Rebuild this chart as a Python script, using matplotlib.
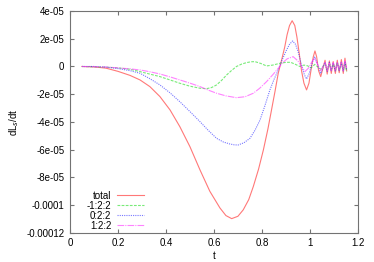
import matplotlib
matplotlib.use("Agg")
import matplotlib.pyplot as plt

plt.rcParams.update({
    "font.family": ["Liberation Sans", "DejaVu Sans"],
    "font.size": 7,
    "axes.edgecolor": "0.45",
    "axes.linewidth": 0.8,
    "xtick.direction": "in",
    "ytick.direction": "in",
    "xtick.color": "0.45",
    "ytick.color": "0.45",
    "xtick.labelcolor": "black",
    "ytick.labelcolor": "black",
    "xtick.top": True,
    "ytick.right": True,
    "xtick.major.size": 3,
    "ytick.major.size": 3,
})

# values in units of 1e-05
t_total = [0.05, 0.10, 0.15, 0.20, 0.25, 0.292, 0.333, 0.375, 0.417, 0.458, 0.50,
           0.542, 0.583, 0.625, 0.65, 0.674, 0.70, 0.722, 0.745, 0.764, 0.786,
           0.806, 0.825, 0.840, 0.855, 0.868, 0.882,
           0.895, 0.905, 0.915, 0.926, 0.937, 0.946, 0.955, 0.965, 0.975, 0.986,
           0.996, 1.007, 1.014, 1.021, 1.028, 1.036, 1.045, 1.063, 1.072, 1.081,
           1.089, 1.097, 1.106, 1.114, 1.122, 1.131, 1.139, 1.146, 1.153]
v_total = [0.0, -0.03, -0.12, -0.35, -0.64, -0.97, -1.45, -2.17, -3.13, -4.34, -5.78,
           -7.46, -9.0, -10.2, -10.75, -10.97, -10.8, -10.34, -9.6, -8.66, -7.4,
           -6.02, -4.5, -3.13, -1.75, -0.49, 0.47,
           1.4, 2.3, 2.95, 3.3, 2.95, 2.1, 1.0, -0.3, -1.2, -1.69,
           -1.2, 0.0, 0.7, 1.12, 0.7, -0.3, -0.73, 0.45, -0.55, 0.4,
           -0.5, 0.35, -0.5, 0.45, -0.45, 0.5, -0.5, 0.6, -0.3]

t_m1 = [0.05, 0.15, 0.20, 0.25, 0.292, 0.333, 0.375, 0.417, 0.458, 0.50, 0.542,
        0.569, 0.59, 0.611, 0.632, 0.653, 0.674, 0.694, 0.715, 0.736, 0.755,
        0.771, 0.795, 0.819, 0.845, 0.875, 0.90, 0.92, 0.94, 0.958, 0.975, 0.99,
        1.005, 1.02, 1.045, 1.063, 1.072, 1.081, 1.089, 1.097, 1.106, 1.114,
        1.122, 1.131, 1.139, 1.146, 1.153]
v_m1 = [0.0, -0.05, -0.1, -0.2, -0.37, -0.55, -0.73, -0.97, -1.21, -1.42, -1.57,
        -1.6, -1.52, -1.33, -1.0, -0.61, -0.28, 0.0, 0.17, 0.28, 0.34,
        0.35, 0.22, 0.04, 0.1, 0.23, 0.3, 0.3, 0.15, 0.0, 0.1, 0.05,
        -0.1, 0.15, -0.2, 0.2, -0.2, 0.15, -0.25, 0.2, -0.2, 0.25,
        -0.25, 0.2, -0.3, 0.25, -0.4]

t_0 = [0.05, 0.10, 0.15, 0.20, 0.25, 0.292, 0.333, 0.375, 0.417, 0.458, 0.50,
       0.542, 0.576, 0.611, 0.64, 0.667, 0.685, 0.701, 0.725, 0.75, 0.771,
       0.792, 0.812, 0.833, 0.85, 0.868, 0.885, 0.90, 0.915, 0.928, 0.94, 0.952,
       0.965, 0.977, 0.986, 0.997, 1.01, 1.02, 1.033, 1.045, 1.063, 1.072,
       1.081, 1.089, 1.097, 1.106, 1.114, 1.122, 1.131, 1.139, 1.146, 1.153]
v_0 = [0.0, 0.0, -0.05, -0.15, -0.3, -0.49, -0.88, -1.33, -1.9, -2.54, -3.25,
       -3.98, -4.6, -5.18, -5.45, -5.59, -5.65, -5.66, -5.5, -5.18, -4.6,
       -3.86, -2.85, -1.7, -0.95, -0.25, 0.5, 1.1, 1.6, 1.84, 1.6, 1.0,
       0.1, -0.6, -0.9, -0.5, 0.3, 0.71, 0.1, -0.5, 0.3, -0.35,
       0.3, -0.3, 0.25, -0.35, 0.3, -0.3, 0.3, -0.35, 0.35, -0.2]

t_p1 = [0.05, 0.15, 0.20, 0.25, 0.292, 0.333, 0.375, 0.417, 0.458, 0.50, 0.542,
        0.576, 0.611, 0.65, 0.694, 0.73, 0.764, 0.79, 0.819, 0.845, 0.868,
        0.885, 0.905, 0.93, 0.95, 0.965, 0.979, 0.995, 1.01, 1.02,
        1.033, 1.045, 1.063, 1.072, 1.081, 1.089, 1.097, 1.106, 1.114, 1.122,
        1.131, 1.139, 1.146, 1.153]
v_p1 = [0.0, -0.04, -0.1, -0.17, -0.25, -0.38, -0.54, -0.75, -0.97, -1.2, -1.45,
        -1.7, -1.93, -2.12, -2.25, -2.18, -1.93, -1.58, -1.1, -0.6, -0.13,
        0.25, 0.55, 0.71, 0.4, 0.0, -0.37, -0.1, 0.4, 0.59,
        0.1, -0.3, 0.3, -0.3, 0.25, -0.3, 0.3, -0.25, 0.3, -0.3,
        0.35, -0.3, 0.4, -0.1]

series = [
    ("total", t_total, v_total, "#ff3030", "-"),
    ("-1:2:2", t_m1, v_m1, "#30e030", (0, (2.5, 1.2))),
    ("0:2:2", t_0, v_0, "#3030ff", (0, (1, 1))),
    ("1:2:2", t_p1, v_p1, "#ff40ff", (0, (6, 1, 1, 1))),
]

fig = plt.figure(figsize=(3.74, 2.62), dpi=100)
ax = fig.add_axes([0.187, 0.111, 0.770, 0.847])

for name, t, v, col, ls in series:
    ax.plot(t, [x * 1e-5 for x in v], color=col, linestyle=ls, lw=0.8,
            alpha=0.65, label=name)

ax.set_xlim(0, 1.2)
ax.set_ylim(-0.00012, 4e-05)
xt = [0, 0.2, 0.4, 0.6, 0.8, 1, 1.2]
ax.set_xticks(xt)
ax.set_xticklabels(["0", "0.2", "0.4", "0.6", "0.8", "1", "1.2"])
yt = [4e-05, 2e-05, 0, -2e-05, -4e-05, -6e-05, -8e-05, -0.0001, -0.00012]
ax.set_yticks(yt)
ax.set_yticklabels(["4e-05", "2e-05", "0", "-2e-05", "-4e-05", "-6e-05",
                    "-8e-05", "-0.0001", "-0.00012"])
ax.tick_params(axis="x", pad=4)
ax.tick_params(axis="y", pad=4)

ax.set_xlabel("t", labelpad=2)
ax.set_ylabel("dL$_s$/dt", labelpad=4)

ax.legend(loc="lower left", bbox_to_anchor=(0.04, -0.015), frameon=False,
          markerfirst=False, handlelength=2.8, labelspacing=0.0,
          handletextpad=0.6, borderaxespad=0.15)

fig.savefig("out.png", dpi=100)
